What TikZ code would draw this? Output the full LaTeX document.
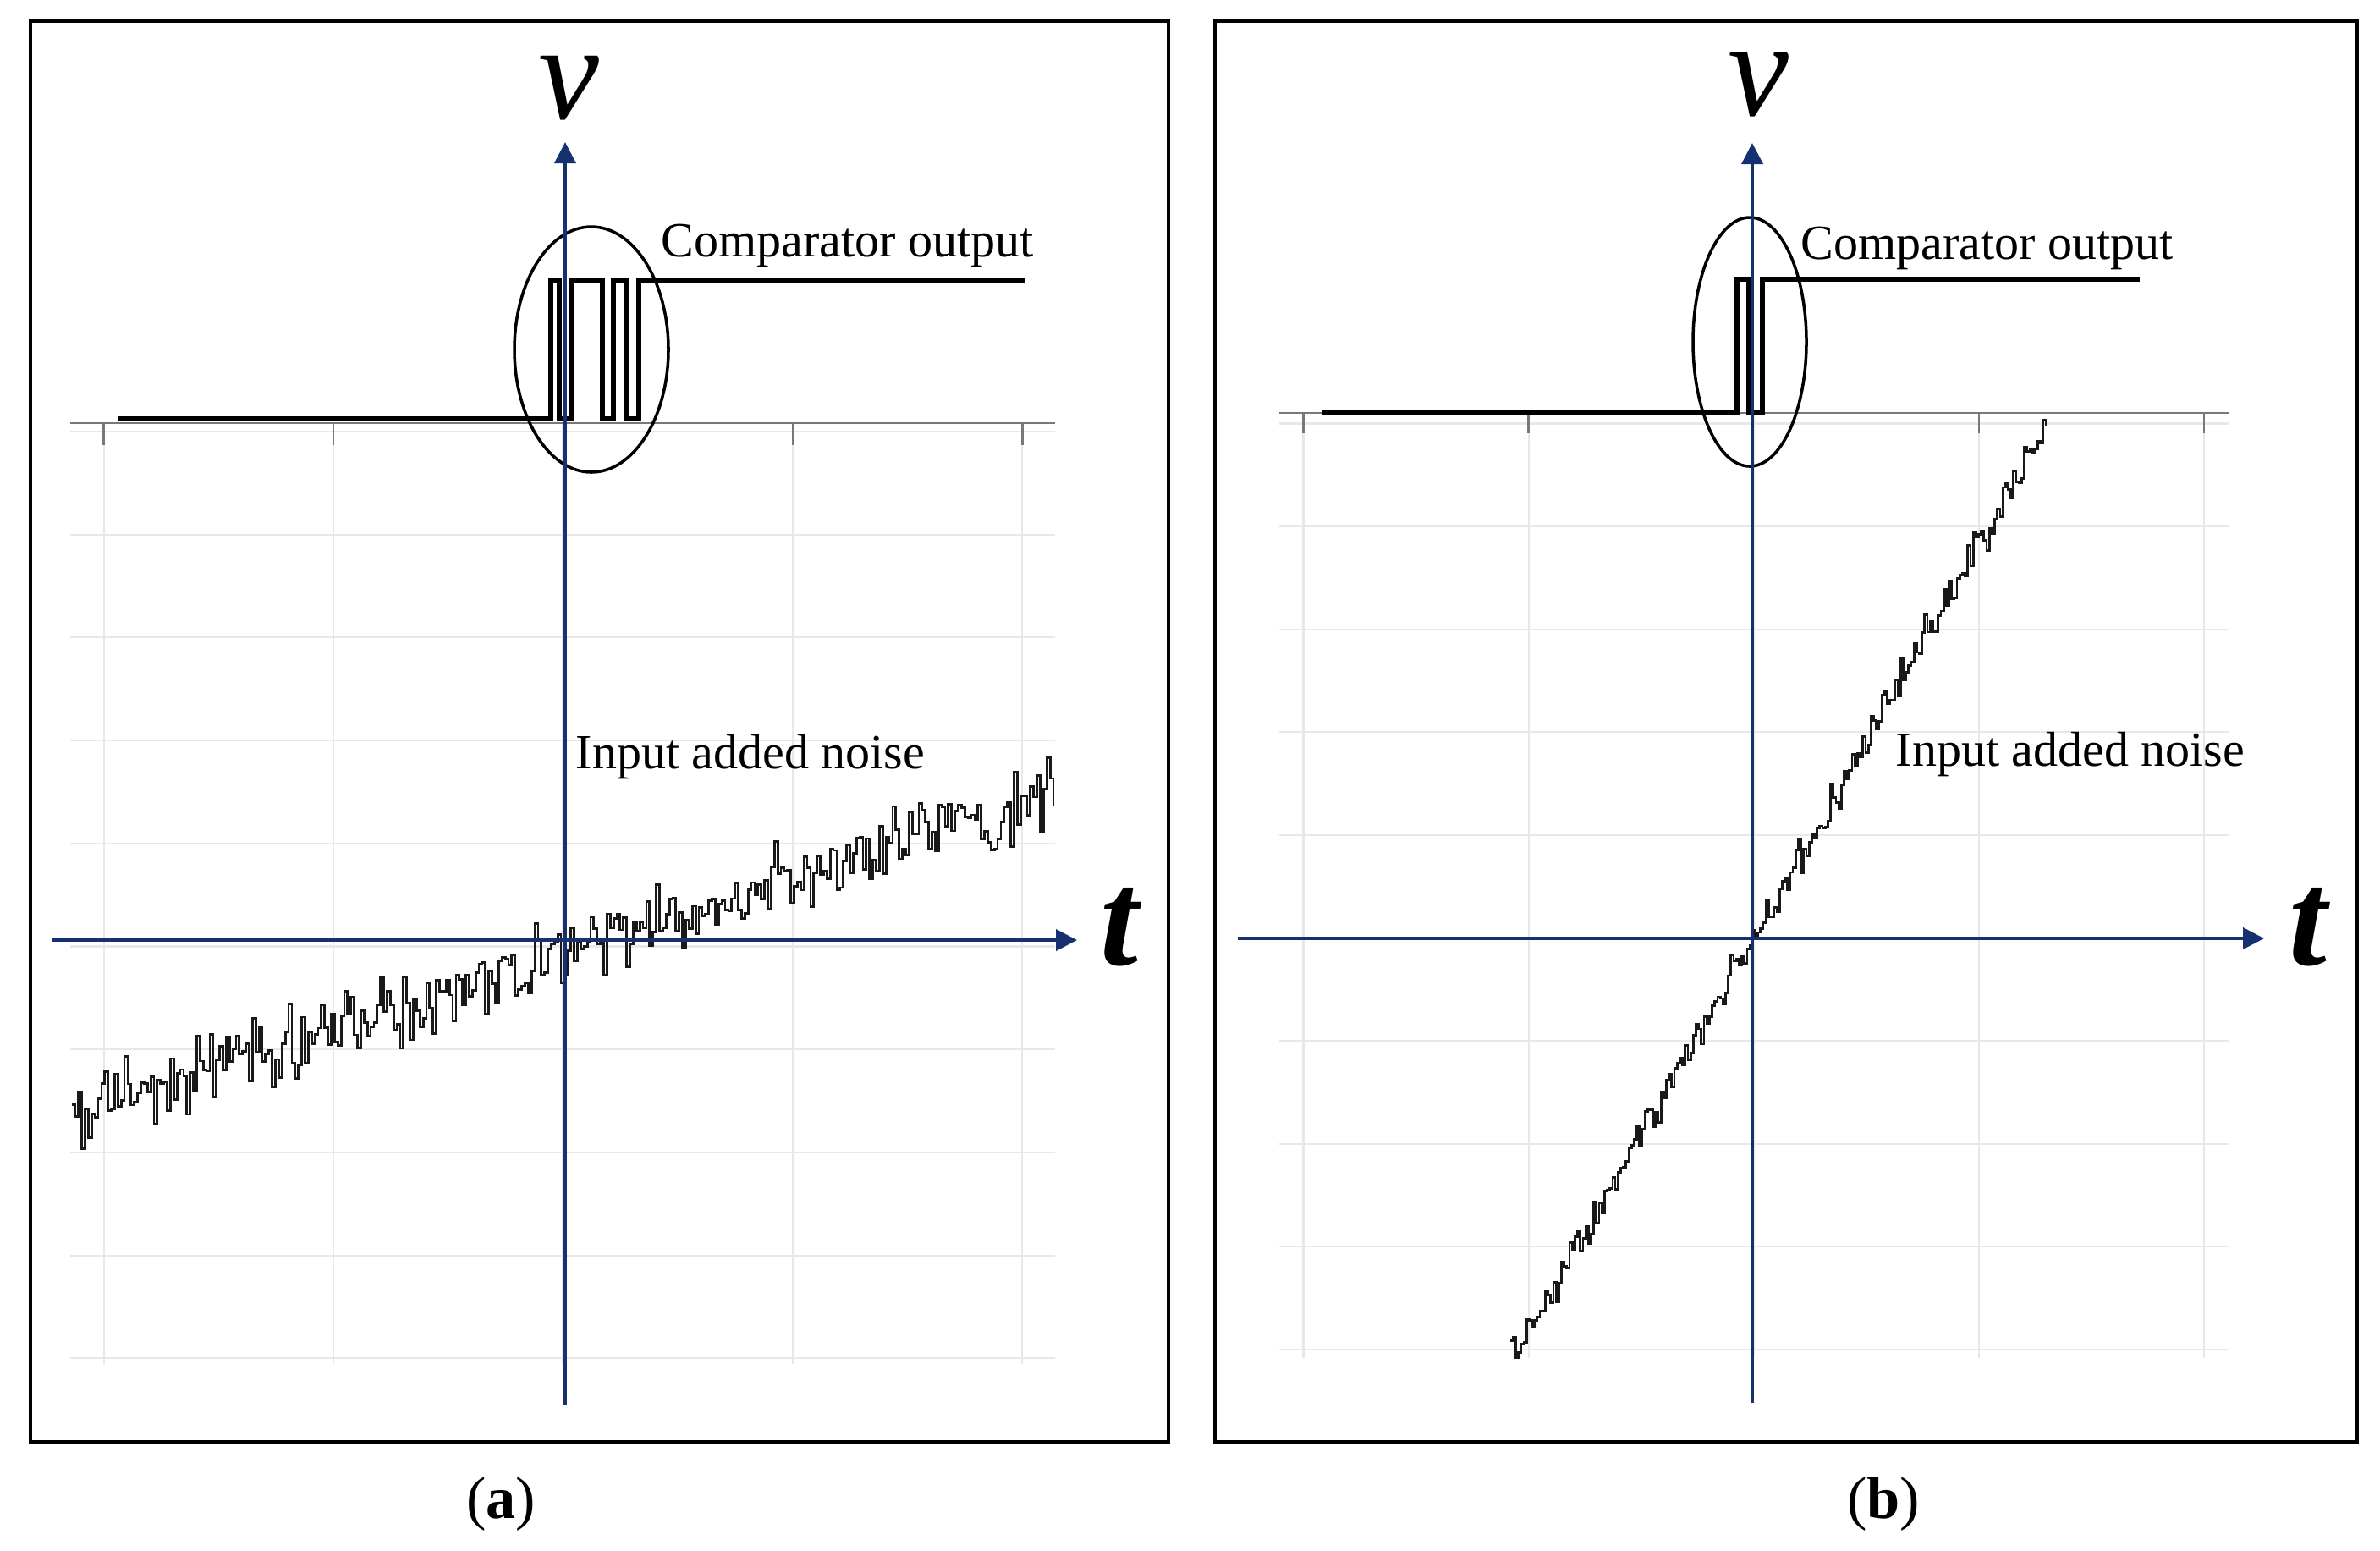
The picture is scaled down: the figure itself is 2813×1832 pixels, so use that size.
\documentclass[tikz,border=0pt]{standalone}
\usepackage{fontspec}
\setmainfont{Liberation Serif}
\usetikzlibrary{arrows.meta}
\definecolor{axisBlue}{RGB}{22,48,112}
\definecolor{gridGray}{RGB}{232,232,232}
\definecolor{tickGray}{RGB}{120,120,120}
\tikzset{
  frameBox/.style={draw=black, line width=1.2pt},
  axisArrow/.style={draw=axisBlue, line width=1.1pt, -{Triangle[length=2.5mm,width=2.5mm]}},
  gridLine/.style={draw=gridGray, line width=0.6pt},
  topAxis/.style={draw=tickGray, line width=0.7pt},
  compLine/.style={line width=1.8pt, line join=miter},
  noiseLine/.style={line width=0.8pt, line join=miter, draw=black!90},
  circLine/.style={line width=1pt},
  axLbl/.style={font=\fontsize{46}{46}\selectfont, anchor=base, inner sep=0pt},
  txtLbl/.style={font=\fontsize{16.5}{18}\selectfont, anchor=base west, inner sep=0pt},
  subLbl/.style={font=\fontsize{20}{22}\selectfont, inner sep=0pt},
}

\begin{document}
\begin{tikzpicture}[x=0.01cm, y=-0.01cm]
\useasboundingbox (0,0) rectangle (2813,1832);

%% panel (a)
\draw[frameBox] (36,25) rectangle (1381,1704);

\draw[gridLine] (83,510)--(1247,510) (83,631.7)--(1247,631.7) (83,753.4)--(1247,753.4)
  (83,875.1)--(1247,875.1) (83,996.8)--(1247,996.8) (83,1118.5)--(1247,1118.5)
  (83,1240.2)--(1247,1240.2) (83,1361.9)--(1247,1361.9) (83,1483.6)--(1247,1483.6)
  (83,1605.3)--(1247,1605.3);
\draw[gridLine] (122.7,500)--(122.7,1612) (394.1,500)--(394.1,1612) (665.5,500)--(665.5,1612)
  (936.9,500)--(936.9,1612) (1208.3,500)--(1208.3,1612);
\draw[topAxis] (83,500)--(1247,500);
\draw[topAxis] (122.7,500)--(122.7,526) (394.1,500)--(394.1,526) (936.9,500)--(936.9,526)
  (1208.3,500)--(1208.3,526);

\pgfmathsetseed{2}
\draw[noiseLine] plot[const plot, samples=300, domain=85:1245, variable=\x]
  (\x, {1126-0.329*(\x-668)+26*(rand+rand)});

\draw[compLine] (139,495)--(650.7,495)--(650.7,332)--(660.7,332)--(660.7,495)--(675,495)
  --(675,332)--(711.7,332)--(711.7,495)--(725,495)--(725,332)--(740,332)--(740,495)
  --(755,495)--(755,332)--(1212,332);
\draw[circLine] (699,413) ellipse (91 and 145);

\coordinate (aVbot) at (668,1660);
\coordinate (aVtop) at (668,168);
\coordinate (aTl) at (62,1111);
\coordinate (aTr) at (1273,1111);
\draw[axisArrow] (aVbot) -- (aVtop);
\draw[axisArrow] (aTl) -- (aTr);

\node[axLbl] (vA) at (672,140) {\textit{v}};
\node[axLbl] (tA) at (1325,1140) {\textbf{\textit{t}}};
\node[txtLbl] (compA) at (781,303) {Comparator output};
\node[txtLbl] (noiseA) at (680,908) {Input added noise};
\node[subLbl] (capA) at (592,1778) {(\textbf{a})};

%% panel (b)
\draw[frameBox] (1436,25) rectangle (2786,1704);

\draw[gridLine] (1512,500.5)--(2634,500.5) (1512,622)--(2634,622) (1512,743.7)--(2634,743.7)
  (1512,865.3)--(2634,865.3) (1512,986.9)--(2634,986.9) (1512,1108.5)--(2634,1108.5)
  (1512,1230)--(2634,1230) (1512,1351.7)--(2634,1351.7) (1512,1473.3)--(2634,1473.3)
  (1512,1594.9)--(2634,1594.9);
\draw[gridLine] (1540.5,488)--(1540.5,1605) (1806.6,488)--(1806.6,1605) (2072.7,488)--(2072.7,1605)
  (2338.8,488)--(2338.8,1605) (2604.9,488)--(2604.9,1605);
\draw[topAxis] (1512,488)--(2634,488);
\draw[topAxis] (1540.5,488)--(1540.5,512) (1806.6,488)--(1806.6,512) (2338.8,488)--(2338.8,512)
  (2604.9,488)--(2604.9,512);

\pgfmathsetseed{5}
\draw[noiseLine] plot[const plot, samples=200, domain=1785:2418, variable=\x]
  (\x, {1109-1.75*(\x-2071)+14*(rand+rand)});

\draw[compLine] (1563,487)--(2053,487)--(2053,330)--(2067,330)--(2067,487)--(2083,487)
  --(2083,330)--(2529,330);
\draw[circLine] (2068,404) ellipse (67 and 147);

\coordinate (bVbot) at (2071,1658);
\coordinate (bVtop) at (2071,169);
\coordinate (bTl) at (1463,1109);
\coordinate (bTr) at (2676,1109);
\draw[axisArrow] (bVbot) -- (bVtop);
\draw[axisArrow] (bTl) -- (bTr);

\node[axLbl] (vB) at (2078,136) {\textit{v}};
\node[axLbl] (tB) at (2730,1140) {\textbf{\textit{t}}};
\node[txtLbl] (compB) at (2128,306) {Comparator output};
\node[txtLbl] (noiseB) at (2240,905) {Input added noise};
\node[subLbl] (capB) at (2226,1778) {(\textbf{b})};

\end{tikzpicture}
\end{document}
